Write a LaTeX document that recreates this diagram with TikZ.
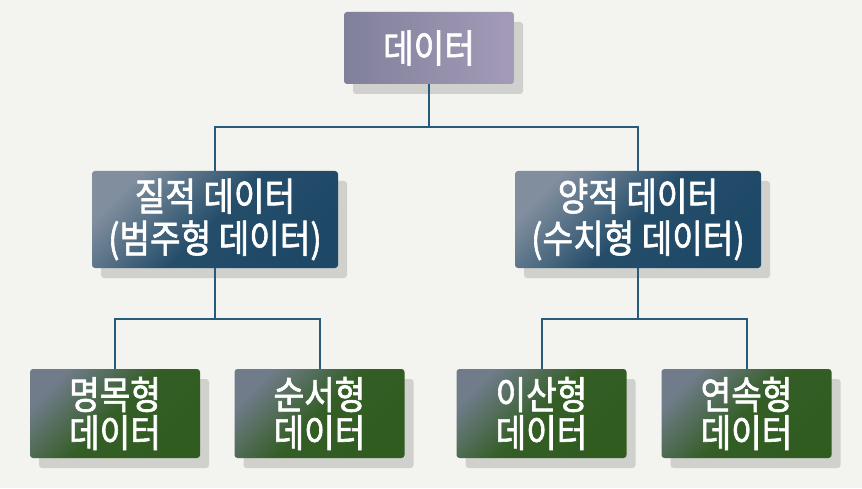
\documentclass[tikz,border=0pt]{standalone}
\usepackage{fontspec}
\setmainfont{Noto Sans CJK KR}[FakeStretch=0.86,FakeBold=1.6]
\usetikzlibrary{shadows}

\definecolor{bgcol}{RGB}{243,243,239}
\definecolor{linkcol}{RGB}{38,92,122}
\definecolor{shadowcol}{RGB}{208,208,204}
\definecolor{rootA}{RGB}{128,128,154}
\definecolor{rootB}{RGB}{164,155,184}
\definecolor{kindA}{RGB}{128,142,158}
\definecolor{kindB}{RGB}{29,72,102}
\definecolor{leafA}{RGB}{112,124,138}
\definecolor{leafB}{RGB}{48,92,32}

\tikzset{
box/.style={rounded corners=2.25pt, text=white, align=center, inner sep=0pt,
    drop shadow={shadow xshift=6.75pt, shadow yshift=-7.5pt, fill=shadowcol, opacity=1}},
rootbox/.style={box, minimum width=127.5pt, minimum height=54pt,
    left color=rootA, right color=rootB, font=\fontsize{29}{30}\selectfont},
kindbox/.style={box, minimum width=184.5pt, minimum height=72.75pt,
    top color=kindA, bottom color=kindB, middle color=kindB!92!kindA, shading angle=45,
    font=\fontsize{29}{31.5}\selectfont},
leafbox/.style={box, minimum width=127.5pt, minimum height=66.75pt,
    top color=leafA, bottom color=leafB, middle color=leafB!95!leafA, shading angle=45,
    font=\fontsize{29}{28.5}\selectfont},
link/.style={draw=linkcol, line width=1.5pt}
}

\begin{document}
\begin{tikzpicture}[x=0.75pt,y=0.75pt,yscale=-1,xscale=1]

% BACKGROUND

\fill [bgcol] (0,0) rectangle (862,488);
\useasboundingbox (0,0) rectangle (862,488);

% NODES

\node [rootbox] (data) at (429,48) {데이터};

\node [kindbox] (qual) at (215,219.5) {질적 데이터\\(범주형 데이터)};
\node [kindbox] (quant) at (638,219.5) {양적 데이터\\(수치형 데이터)};

\node [leafbox] (nominal) at (115,413.5) {명목형\\데이터};
\node [leafbox] (ordinal) at (319.5,413.5) {순서형\\데이터};
\node [leafbox] (discrete) at (541.5,413.5) {이산형\\데이터};
\node [leafbox] (contin) at (746.5,413.5) {연속형\\데이터};

% COORDINATES

\coordinate (bus0) at (429,127);
\coordinate (bus1) at (215,319);
\coordinate (bus2) at (638,319);

% EDGES

\draw [link] (data) -- (bus0);
\draw [link] (bus0) -| (qual);
\draw [link] (bus0) -| (quant);

\draw [link] (qual) -- (bus1);
\draw [link] (bus1) -| (nominal);
\draw [link] (bus1) -| (ordinal);

\draw [link] (quant) -- (bus2);
\draw [link] (bus2) -| (discrete);
\draw [link] (bus2) -| (contin);

\end{tikzpicture}
\end{document}
